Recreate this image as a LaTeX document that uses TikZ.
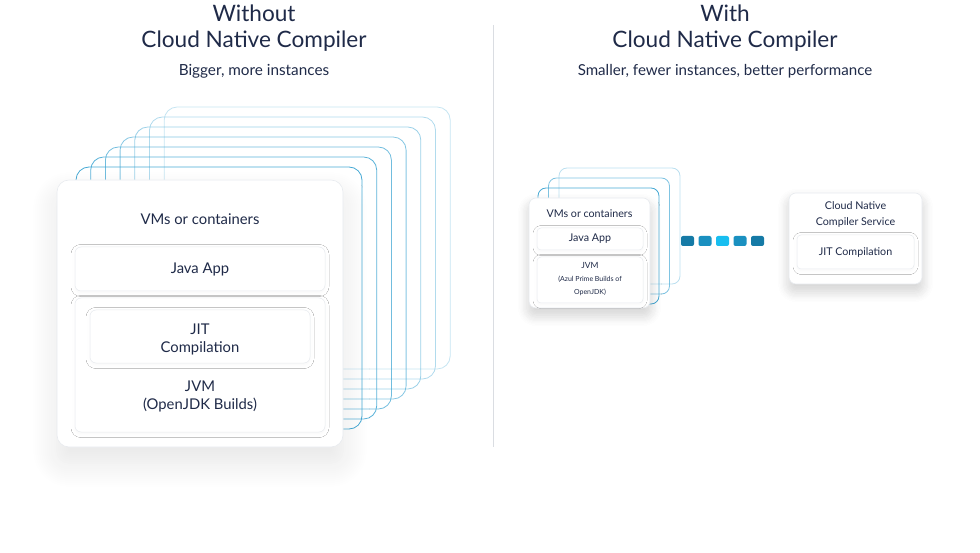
\documentclass[tikz,border=0pt]{standalone}
\usepackage{fontspec}
\setmainfont{Lato}
\usetikzlibrary{positioning,shadows.blur}
\definecolor{AzNavy}{HTML}{1F2A48}
\definecolor{AzLine}{HTML}{3CA4D2}
\definecolor{AzEdge}{HTML}{E8EBEF}
\definecolor{AzRule}{HTML}{DADDE2}
\definecolor{AzDark}{HTML}{157AA6}
\definecolor{AzMid}{HTML}{1A90C0}
\definecolor{AzLight}{HTML}{18BEF0}
\newcommand{\fs}[2]{\fontsize{#1}{#2}\selectfont}

\begin{document}
\begin{tikzpicture}[x=1pt,y=-1pt,
    txt/.style={text=AzNavy,align=center,inner sep=0pt},
    card/.style={draw=AzEdge,line width=0.6pt,fill=white,rounded corners=12pt,
      blur shadow={shadow xshift=0pt,shadow yshift=-16pt,shadow blur radius=26pt,shadow blur steps=14,shadow opacity=10}},
    minicard/.style={card,rounded corners=7pt,
      blur shadow={shadow xshift=0pt,shadow yshift=-7pt,shadow blur radius=11pt,shadow blur steps=10,shadow opacity=10}},
    layer/.style={draw=AzEdge,line width=0.5pt,fill=white,rounded corners=6pt,text=AzNavy,align=center,
      blur shadow={shadow xshift=0pt,shadow yshift=-1.5pt,shadow blur radius=4pt,shadow opacity=3}},
    ghost/.style={AzLine,line width=0.8pt,rounded corners=13pt},
    dot/.style={rounded corners=2pt,minimum width=13,minimum height=10,inner sep=0pt}
  ]
    \useasboundingbox (0,0) rectangle (980,553);
    % titles
    \node[txt,font=\fs{22.6}{26}] (ttlA) at (254,28) {Without\\Cloud Native Compiler};
    \node[txt,font=\fs{15.3}{18}] (subA) at (254,71) {Bigger, more instances};
    \node[txt,font=\fs{22.6}{26}] (ttlB) at (725,28) {With\\Cloud Native Compiler};
    \node[txt,font=\fs{15.1}{18}] (subB) at (725,71) {Smaller, fewer instances, better performance};
    \coordinate (ruleT) at (493,25);
    \coordinate (ruleB) at (493,447);
    \draw[AzRule,line width=0.8pt] (ruleT) -- (ruleB);

    % left: stacked instances
    \foreach \i in {7,...,1}{
      \pgfmathsetmacro{\op}{0.95-0.11*(\i-1)}
      \draw[ghost,draw opacity=\op] ({76+14.7*(\i-1)},{167-10*(\i-1)}) rectangle ++(286,262);
    }
    \node[card,minimum width=286,minimum height=267] (vmA) at (200,313.5) {};
    \node[txt,font=\fs{14.8}{18}] (vmAt) at (200,219) {VMs or containers};
    \node[layer,font=\fs{14.8}{18},minimum width=250,minimum height=44] (appA) at (200,269) {Java App};
    \node[layer,minimum width=250,minimum height=134] (jvmA) at (200,365) {};
    \node[layer,minimum width=220,minimum height=53] (jitA) at (200,336.5) {};
    \node[txt,font=\fs{14.8}{18}] (jitAt) at (200,339) {JIT\\Compilation};
    \node[txt,font=\fs{14.8}{18}] (jvmAt) at (200,396) {JVM\\(OpenJDK Builds)};

    % right: fewer instances
    \foreach \i in {3,...,1}{
      \pgfmathsetmacro{\op}{0.95-0.3*(\i-1)}
      \draw[ghost,rounded corners=8pt,draw opacity=\op] ({538+10.5*(\i-1)},{188-10*(\i-1)}) rectangle ++(121,116);
    }
    \node[minicard,minimum width=121,minimum height=110] (vmB) at (589.5,253) {};
    \node[txt,font=\fs{10.7}{13}] (vmBt) at (589.5,214) {VMs or containers};
    \node[layer,rounded corners=4pt,font=\fs{10.7}{13},minimum width=106,minimum height=22] (appB) at (590,239) {Java App};
    \node[layer,rounded corners=4pt,minimum width=106,minimum height=46] (jvmB) at (590,280) {};
    \node[txt,font=\fs{7}{13}] (jvmBt) at (590,279) {\fs{8.5}{13}JVM\\(Azul Prime Builds of\\OpenJDK)};

    % link
    \foreach \c [count=\k] in {AzDark,AzMid,AzLight,AzMid,AzDark}
      \node[dot,fill=\c] (sq\k) at ({670+17.5*\k},241) {};

    % compiler service
    \node[minicard,minimum width=133,minimum height=91] (svc) at (855.5,238.5) {};
    \node[txt,font=\fs{10.7}{16}] (svct) at (855.5,214) {Cloud Native\\Compiler Service};
    \node[layer,rounded corners=4pt,font=\fs{10.7}{13},minimum width=117,minimum height=34] (jitB) at (855.5,252) {JIT Compilation};
  \end{tikzpicture}
\end{document}
